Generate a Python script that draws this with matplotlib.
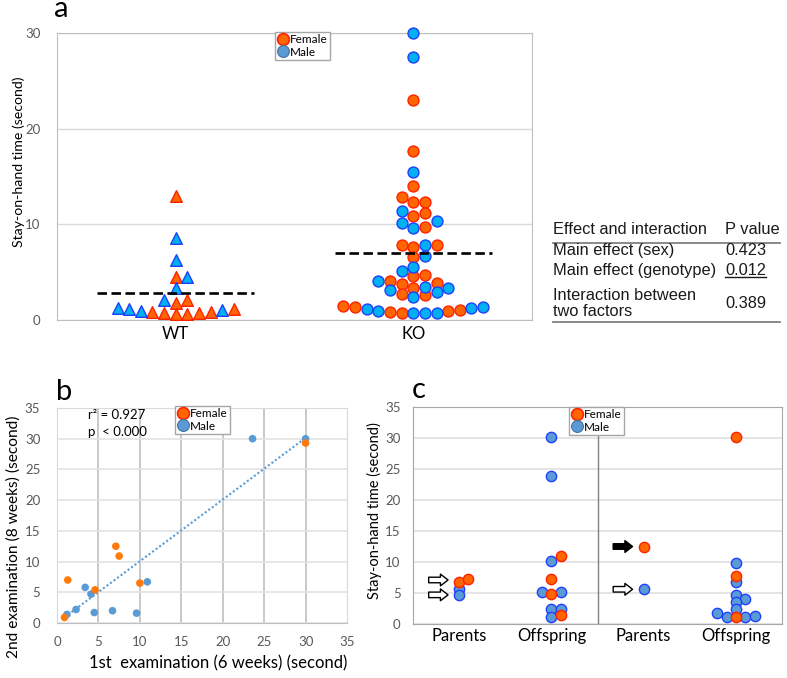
import numpy as np
import matplotlib
matplotlib.use('Agg')
import matplotlib.pyplot as plt
from matplotlib.lines import Line2D

plt.rcParams['font.family'] = ['Lato', 'DejaVu Sans']

W, H = 787, 678
ORANGE = '#FF6600'
ORANGE_EDGE = '#FF2200'
CYAN = '#00B0F0'
BLUE = '#5B9BD5'
BLUE_EDGE = '#1F3FFF'
TICK = '#595959'
FRAME = '#BFBFBF'
GRID = '#E3E3E3'

# ---- panel a: stay-on-hand time, WT vs KO ----
GROUPS_A = ['WT', 'KO']
WT_FEMALE = [13.0, 4.45, 2.1, 1.8, 1.2, 0.8, 0.7, 0.6, 0.6, 0.7, 0.8]
WT_MALE = [8.6, 6.3, 4.45, 3.3, 2.1, 1.3, 1.1, 1.05, 0.9]
KO_FEMALE = [23.0, 17.7, 14.0, 12.85, 12.3, 12.3, 11.2, 10.9, 9.75, 7.6, 7.84, 7.84,
             6.55, 4.7, 4.6, 4.1, 3.85, 3.75, 3.3, 2.7, 2.6, 1.47, 1.36, 1.05, 0.95,
             0.87, 0.77]
KO_MALE = [30.0, 27.5, 15.5, 11.4, 10.3, 10.15, 9.6, 7.8, 6.7, 5.5, 5.07, 4.1, 3.5,
           3.3, 3.1, 2.95, 2.4, 1.36, 1.3, 1.1, 0.95, 0.77, 0.7, 0.7]

TABLE_HEAD = ['Effect and interaction', 'P value']
TABLE_ROWS = [('Main effect (sex)', '0.423'),
              ('Main effect (genotype)', '0.012'),
              ('Interaction between\ntwo factors', '0.389')]

# ---- panel b: 1st vs 2nd examination ----
B_FEMALE_X = [0.9, 1.3, 4.6, 7.1, 7.5, 10.0, 30.0]
B_FEMALE_Y = [0.9, 7.0, 5.4, 12.5, 10.9, 6.5, 29.3]
B_MALE_X = [1.2, 2.3, 3.4, 4.1, 4.5, 6.7, 9.6, 10.9, 23.6, 30.0]
B_MALE_Y = [1.4, 2.2, 5.8, 4.7, 1.7, 2.0, 1.6, 6.7, 30.0, 30.0]
B_STATS = ['r\u00b2 = 0.927', 'p  < 0.000']

# ---- panel c: parents vs offspring ----
GROUPS_C = ['Parents', 'Offspring', 'Parents', 'Offspring']
C_FEMALE = [[6.7, 7.3], [11.0, 7.3, 4.8, 1.45], [12.5], [30.2, 7.8, 1.1]]
C_MALE = [[5.6, 4.6], [30.2, 23.8, 10.2, 5.1, 5.1, 2.5, 2.5, 1.1], [5.6],
          [9.8, 6.8, 4.6, 4.1, 3.6, 2.4, 1.7, 1.1, 1.1, 1.35]]
# (group, y, filled) for the parent arrows
C_ARROWS = [(0, 7.1, False), (0, 4.7, False), (2, 12.5, True), (2, 5.6, False)]


def swarm_slots(values, gap):
    """Integer column slot per value; lowest values are placed first, points in one
    column keep at least `gap` apart."""
    values = np.asarray(values, dtype=float)
    order = np.argsort(values, kind='stable')
    cands = [0] + [s for k in range(1, 40) for s in (k, -k)]
    used = {}
    slots = np.zeros(len(values))
    for i in order:
        for c in cands:
            if all(abs(values[i] - u) >= gap for u in used.get(c, [])):
                break
        used.setdefault(c, []).append(values[i])
        slots[i] = c
    return slots


def legend(ax, anchor, fs=8.5):
    handles = [Line2D([], [], ls='', marker='o', ms=8.5, mfc=ORANGE, mec=ORANGE_EDGE, mew=1.2),
               Line2D([], [], ls='', marker='o', ms=8.5, mfc=BLUE, mec='#41719C', mew=0.8)]
    lg = ax.legend(handles, ['Female', 'Male'], loc='upper left', bbox_to_anchor=anchor,
                   fontsize=fs, frameon=True, fancybox=False, borderpad=0.2,
                   handletextpad=0.15, handlelength=0.9, labelspacing=0.1,
                   borderaxespad=0, framealpha=1)
    lg.get_frame().set_edgecolor('#A6A6A6')
    lg.get_frame().set_linewidth(1.0)
    lg.set_zorder(10)
    return lg


fig = plt.figure(figsize=(W / 100, H / 100), dpi=100, facecolor='white')

# ================= panel a =================
ax_a = fig.add_axes([57 / W, 1 - 320 / H, 475 / W, 287 / H])
ax_a.set_xlim(-0.5, 1.5)
ax_a.set_ylim(0, 30)
for sp in ax_a.spines.values():
    sp.set_color(FRAME)
ax_a.set_yticks([0, 10, 20, 30])
ax_a.yaxis.grid(True, color='#D9D9D9', lw=1)
ax_a.set_axisbelow(True)
ax_a.set_xticks([0, 1])
ax_a.set_xticklabels(GROUPS_A, fontsize=12)
ax_a.tick_params(axis='y', length=0, pad=12, labelcolor=TICK, labelsize=9.5)
ax_a.tick_params(axis='x', length=0, pad=4)

for i, (fem, mal, mk) in enumerate([(WT_FEMALE, WT_MALE, '^'), (KO_FEMALE, KO_MALE, 'o')]):
    vals = np.array(fem + mal)
    is_f = np.array([True] * len(fem) + [False] * len(mal))
    slots = swarm_slots(vals, 0.85)
    xs = i + slots * 0.049
    s = 70 if mk == '^' else 62
    ax_a.scatter(xs[is_f], vals[is_f], marker=mk, s=s, c=ORANGE, edgecolors=ORANGE_EDGE,
                 linewidths=1, zorder=3, clip_on=False)
    ax_a.scatter(xs[~is_f], vals[~is_f], marker=mk, s=s, c=CYAN, edgecolors=BLUE_EDGE,
                 linewidths=1, zorder=3, clip_on=False)
    ax_a.hlines(vals.mean(), i - 0.33, i + 0.33, colors='black', lw=1.9,
                linestyles=(0, (3.6, 1.7)), zorder=4)

legend(ax_a, ((275 - 57) / 475, (320 - 32) / 287))
fig.text(19 / W, 1 - 162 / H, 'Stay-on-hand time (second)', rotation=90,
         ha='center', va='center', fontsize=10.2)
fig.text(54 / W, 1 - 17 / H, 'a', fontsize=21, va='baseline')

# ---- table ----
TF = ['Liberation Sans', 'DejaVu Sans']
TS = 11.8
x0, x1, xp = 553 / W, 780 / W, 725 / W
fig.text(x0, 1 - 229 / H, TABLE_HEAD[0], family=TF, fontsize=TS, va='center', color='#1a1a1a')
fig.text(xp, 1 - 229 / H, TABLE_HEAD[1], family=TF, fontsize=TS, va='center', color='#1a1a1a')
fig.add_artist(Line2D([x0, x1], [1 - 243 / H] * 2, color='#808080', lw=1.3))
row_y = [251, 270.5, 303.5]
p_texts = []
for (lab, p), yy in zip(TABLE_ROWS, row_y):
    fig.text(x0, 1 - yy / H, lab, family=TF, fontsize=TS, va='center', color='#1a1a1a',
             linespacing=1.1)
    p_texts.append(fig.text(xp, 1 - yy / H, p, family=TF, fontsize=TS, va='center',
                            color='#1a1a1a'))
fig.add_artist(Line2D([x0, x1], [1 - 322 / H] * 2, color='#808080', lw=1.3))

# ================= panel b =================
ax_b = fig.add_axes([57 / W, 1 - 623 / H, 290 / W, 215 / H])
ax_b.set_xlim(0, 35)
ax_b.set_ylim(0, 35)
ax_b.set_xticks(range(0, 36, 5))
ax_b.set_yticks(range(0, 36, 5))
for sp in ax_b.spines.values():
    sp.set_color('#D9D9D9')
ax_b.spines['bottom'].set_color(FRAME)
ax_b.yaxis.grid(True, color=GRID, lw=1.2)
for xv in range(5, 35, 5):
    ax_b.axvline(xv, color=FRAME, lw=1.2, zorder=0)
ax_b.set_axisbelow(True)
ax_b.tick_params(length=0, labelcolor=TICK, labelsize=9.5)
ax_b.tick_params(axis='y', pad=12)
ax_b.tick_params(axis='x', pad=9)

bx = np.array(B_FEMALE_X + B_MALE_X)
by = np.array(B_FEMALE_Y + B_MALE_Y)
k, b0 = np.polyfit(bx, by, 1)
xl = np.array([bx.min(), bx.max()])
ax_b.plot(xl, k * xl + b0, color=BLUE, lw=1.5, linestyle=(0, (1, 1.1)), zorder=2)
ax_b.scatter(B_MALE_X, B_MALE_Y, s=30, c=BLUE, edgecolors='none', zorder=3, clip_on=False)
ax_b.scatter(B_FEMALE_X, B_FEMALE_Y, s=30, c='#FF7A0A', edgecolors='none', zorder=3,
             clip_on=False)
ax_b.text((88 - 57) / 290, (623 - 415) / 215, B_STATS[0], transform=ax_b.transAxes,
          fontsize=9.5, va='center')
ax_b.text((88 - 57) / 290, (623 - 432) / 215, B_STATS[1], transform=ax_b.transAxes,
          fontsize=9.5, va='center')
legend(ax_b, ((175 - 57) / 290, (623 - 406) / 215))
fig.text(218 / W, 1 - 663 / H, '1st  examination (6 weeks) (second)', ha='center',
         va='center', fontsize=12)
fig.text(14 / W, 1 - 537 / H, '2nd examination (8 weeks) (second)', rotation=90,
         ha='center', va='center', fontsize=11.2)
fig.text(56 / W, 1 - 400 / H, 'b', fontsize=21, va='baseline')

# ================= panel c =================
ax_c = fig.add_axes([413 / W, 1 - 624 / H, 369 / W, 217 / H])
ax_c.set_xlim(0, 4)
ax_c.set_ylim(0, 35)
ax_c.set_yticks(range(0, 36, 5))
for sp in ax_c.spines.values():
    sp.set_color('#A6A6A6')
ax_c.yaxis.grid(True, color=GRID, lw=1.3)
ax_c.set_axisbelow(True)
ax_c.axvline(2, color='#808080', lw=1, zorder=1)
ax_c.set_xticks(np.arange(len(GROUPS_C)) + 0.5)
ax_c.set_xticklabels(GROUPS_C, fontsize=12)
ax_c.tick_params(axis='y', length=0, pad=9, labelcolor=TICK, labelsize=9.5)
ax_c.tick_params(axis='x', length=0, pad=3)

for g, (fem, mal) in enumerate(zip(C_FEMALE, C_MALE)):
    vals = np.array(fem + mal)
    is_f = np.array([True] * len(fem) + [False] * len(mal))
    slots = swarm_slots(vals, 0.9)
    xs = g + 0.5 + slots * 0.101
    ax_c.scatter(xs[~is_f], vals[~is_f], s=55, c=BLUE, edgecolors=BLUE_EDGE, linewidths=1,
                 zorder=3, clip_on=False)
    ax_c.scatter(xs[is_f], vals[is_f], s=55, c=ORANGE, edgecolors=ORANGE_EDGE, linewidths=1,
                 zorder=4, clip_on=False)

for g, yv, filled in C_ARROWS:
    ax_c.annotate('', xy=(g + 0.38, yv), xytext=(g + 0.17, yv),
                  arrowprops=dict(arrowstyle='simple,head_length=0.55,head_width=0.85,'
                                             'tail_width=0.4',
                                  fc='black' if filled else 'white', ec='black', lw=1,
                                  mutation_scale=10, shrinkA=0, shrinkB=0))

legend(ax_c, ((569 - 413) / 369, 1.0))
fig.text(374 / W, 1 - 511 / H, 'Stay-on-hand time (second)', rotation=90,
         ha='center', va='center', fontsize=10.5)
fig.text(412 / W, 1 - 398 / H, 'c', fontsize=21, va='baseline')

# underline the significant p value
fig.canvas.draw()
bb = p_texts[1].get_window_extent().transformed(fig.transFigure.inverted())
fig.add_artist(Line2D([bb.x0, bb.x1], [bb.y0 + 1 / H] * 2, color='#1a1a1a', lw=1))

fig.savefig('out.png', dpi=100, facecolor='white')
